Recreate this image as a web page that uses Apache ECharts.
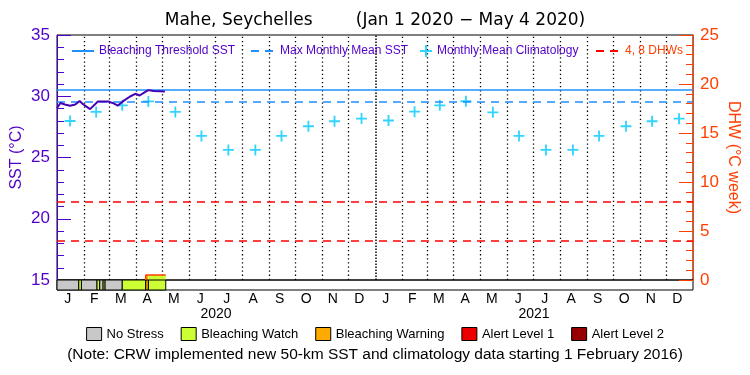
<!DOCTYPE html>
<html><head><meta charset="utf-8">
<script src="https://cdn.jsdelivr.net/npm/echarts@6/dist/echarts.min.js"></script>
<style>html,body{margin:0;padding:0;background:#fff}#c{width:750px;height:375px}</style>
</head><body><div id="c"></div>
<script>
// ---------------- data ----------------
const titleText = 'Mahe, Seychelles        (Jan 1 2020 \u2212 May 4 2020)';
const noteText = '(Note: CRW implemented new 50-km SST and climatology data starting 1 February 2016)';
const monthLetters = ['J','F','M','A','M','J','J','A','S','O','N','D','J','F','M','A','M','J','J','A','S','O','N','D'];
const yearLabels = ['2020','2021'];
const xStart = '2020-01-01', xEnd = '2022-01-01';

const sstDates = ['2020-01-01','2020-01-05','2020-01-10','2020-01-16','2020-01-22','2020-01-27','2020-01-31',
  '2020-02-08','2020-02-17','2020-02-29','2020-03-06','2020-03-11','2020-03-17','2020-03-25','2020-03-31',
  '2020-04-05','2020-04-11','2020-04-15','2020-04-21','2020-04-28','2020-05-04'];
const sstValues = [29.04,29.45,29.33,29.22,29.32,29.62,29.35,
  28.95,29.57,29.57,29.42,29.24,29.6,29.98,30.2,
  30.06,30.34,30.5,30.42,30.4,30.38];

const climDates = ['2020-01-16','2020-02-15','2020-03-16','2020-04-15','2020-05-16','2020-06-15','2020-07-16','2020-08-16','2020-09-15','2020-10-16','2020-11-15','2020-12-16',
  '2021-01-16','2021-02-15','2021-03-16','2021-04-15','2021-05-16','2021-06-15','2021-07-16','2021-08-16','2021-09-15','2021-10-16','2021-11-15','2021-12-16'];
const climValues = [27.98,28.72,29.26,29.58,28.72,26.76,25.62,25.62,26.76,27.55,27.96,28.18,
  28.02,28.74,29.26,29.59,28.69,26.76,25.62,25.62,26.76,27.55,27.96,28.17];

const bleachingThreshold = 30.57;
const maxMonthlyMean = 29.57;
const dhwLevels = [4, 8];

const stressNames = ['No Stress','Bleaching Watch','Bleaching Warning','Alert Level 1','Alert Level 2'];
const stressColors = ['#c8c8c8','#ccff33','#ffaa00','#ee0000','#960000'];
const stressStart = ['2020-01-01','2020-01-26','2020-01-29','2020-02-16','2020-02-19','2020-02-23','2020-02-25','2020-03-16','2020-04-12','2020-04-15'];
const stressEnd   = ['2020-01-26','2020-01-29','2020-02-16','2020-02-19','2020-02-23','2020-02-25','2020-03-16','2020-04-12','2020-04-15','2020-05-05'];
const stressLevel = [0,1,0,1,0,1,0,1,2,1];

const dhwStart = ['2020-04-12','2020-04-15'];
const dhwEnd   = ['2020-04-15','2020-05-05'];
const dhwValue = [0.5, 0.5];
const dhwLevel = [2, 1];
const dhwLineDates = ['2020-04-12','2020-04-12','2020-05-05'];
const dhwLineValues = [0, 0.5, 0.5];

// ---------------- styles ----------------
const PURPLE = '#5000c8', ORANGE = '#ff4000', BLUE = '#1e90ff', CYAN = '#00c8ff', RED = '#ff0000', SSTC = '#4800b4';
const FONT = 'Liberation Sans';
const T = s => Date.parse(s);
const t0 = T(xStart), t1 = T(xEnd);

// month boundaries (axis gridlines)
const monthStarts = [];
for (let y = 2020; y <= 2021; y++) for (let m = 0; m < 12; m++) if (!(y === 2020 && m === 0)) monthStarts.push(Date.UTC(y, m, 1));

function rectItem(params, api) {
  const a = api.coord([api.value(0), api.value(2)]);
  const b = api.coord([api.value(1), api.value(3)]);
  return {type: 'rect', shape: {x: a[0], y: b[1], width: b[0] - a[0], height: a[1] - b[1]},
    style: {fill: api.visual('color'), stroke: params.seriesName === 'dhwfill' ? null : '#000', lineWidth: 1}};
}

const stressSeries = stressNames.map((name, lv) => ({
  name, type: 'custom', xAxisIndex: 1, yAxisIndex: 2, renderItem: rectItem,
  itemStyle: {color: stressColors[lv], borderColor: '#000', borderWidth: 1},
  encode: {x: [0, 1], y: [2, 3]},
  data: stressStart.map((s, i) => [T(s), T(stressEnd[i]), 0, 1, stressLevel[i]]).filter(d => d[4] === lv)
}));

function refLine(name, values, yIdx, color, type) {
  return {name, type: 'line', xAxisIndex: 0, yAxisIndex: yIdx, symbol: 'none', showSymbol: false,
    data: [[t0, values[0]]],
    lineStyle: {color, width: 1.5, type}, itemStyle: {color},
    markLine: {silent: true, symbol: ['none', 'none'], label: {show: false}, lineStyle: {color, width: 1.5, type},
      data: values.map(v => ({yAxis: v}))}};
}

const hideSym = {color: 'rgba(0,0,0,0)', borderColor: 'rgba(0,0,0,0)', borderWidth: 0};
const lg = (name, left, w, color, extra) => Object.assign({data: [name], left, top: 45, padding: 0, itemWidth: w, itemHeight: 12, selectedMode: false,
  textStyle: {color, fontSize: 12, fontFamily: FONT}}, extra || {});

const chart = echarts.init(document.getElementById('c'));
chart.setOption({
  animation: false,
  textStyle: {fontFamily: FONT},
  title: [
    {text: titleText, left: 'center', top: 7, textStyle: {fontFamily: 'DejaVu Sans', fontSize: 17, fontWeight: 'normal', color: '#000'}},
    {text: noteText, left: 'center', top: 342, textStyle: {fontFamily: FONT, fontSize: 15.5, fontWeight: 'normal', color: '#000'}}
  ],
  grid: [
    {left: 57, right: 57, top: 35, height: 245, show: true, borderColor: '#000', borderWidth: 1, containLabel: false, outerBoundsMode: 'none'},
    {left: 57, right: 57, top: 280, height: 10, show: true, borderColor: '#000', borderWidth: 1, containLabel: false, outerBoundsMode: 'none'}
  ],
  legend: [
    lg('Bleaching Threshold SST', 71, 22, PURPLE, {itemStyle: hideSym}),
    lg('Max Monthly Mean SST', 250, 24, PURPLE, {itemStyle: hideSym}),
    lg('Monthly Mean Climatology', 420, 12, PURPLE),
    lg('4, 8 DHWs', 595, 24, ORANGE, {itemStyle: hideSym}),
    {data: stressNames, left: 'center', top: 327, padding: 0, icon: 'rect', itemWidth: 15, itemHeight: 13, itemGap: 17, selectedMode: false,
      itemStyle: {borderColor: '#000', borderWidth: 1}, textStyle: {color: '#000', fontSize: 13, fontFamily: FONT}}
  ],
  xAxis: [
    {type: 'time', gridIndex: 0, min: t0, max: t1, show: false},
    {type: 'time', gridIndex: 1, min: t0, max: t1, show: false},
    {type: 'category', gridIndex: 1, data: monthLetters, position: 'bottom', boundaryGap: true,
      axisLine: {show: false}, axisTick: {show: false}, splitLine: {show: false},
      axisLabel: {interval: 0, margin: 2, fontSize: 14, color: '#000', fontFamily: FONT, padding: [0, 5, 0, 0]}},
    {type: 'category', gridIndex: 1, data: yearLabels, position: 'bottom', offset: 17, boundaryGap: true,
      axisLine: {show: false}, axisTick: {show: false}, splitLine: {show: false},
      axisLabel: {interval: 0, margin: 0, fontSize: 14, color: '#000', fontFamily: FONT}}
  ],
  yAxis: [
    {type: 'value', gridIndex: 0, min: 15, max: 35, interval: 5, position: 'left',
      axisLine: {show: true, lineStyle: {color: PURPLE, width: 1}},
      axisTick: {show: true, inside: true, length: 14, lineStyle: {color: PURPLE}},
      minorTick: {show: true, splitNumber: 5, length: 7, lineStyle: {color: PURPLE}},
      splitLine: {show: false}, minorSplitLine: {show: false},
      axisLabel: {color: PURPLE, fontSize: 17, margin: 7, fontFamily: FONT},
      name: 'SST (\u00b0C)', nameLocation: 'middle', nameGap: 32, nameRotate: 90, nameMoveOverlap: false,
      nameTextStyle: {color: PURPLE, fontSize: 16, fontFamily: FONT}},
    {type: 'value', gridIndex: 0, min: 0, max: 25, interval: 5, position: 'right',
      axisLine: {show: true, lineStyle: {color: ORANGE, width: 1}},
      axisTick: {show: true, inside: true, length: 14, lineStyle: {color: ORANGE}},
      minorTick: {show: true, splitNumber: 5, length: 7, lineStyle: {color: ORANGE}},
      splitLine: {show: false}, minorSplitLine: {show: false},
      axisLabel: {color: ORANGE, fontSize: 17, margin: 7, fontFamily: FONT},
      name: 'DHW (\u00b0C week)', nameLocation: 'middle', nameGap: 32, nameRotate: -90, nameMoveOverlap: false,
      nameTextStyle: {color: ORANGE, fontSize: 16, fontFamily: FONT}},
    {type: 'value', gridIndex: 1, min: 0, max: 1, show: false}
  ],
  series: [
    {name: 'sst', type: 'line', xAxisIndex: 0, yAxisIndex: 0, symbol: 'none', z: 5,
      lineStyle: {color: SSTC, width: 2}, itemStyle: {color: SSTC},
      data: sstDates.map((d, i) => [T(d), sstValues[i]]),
      markLine: {silent: true, symbol: ['none', 'none'], label: {show: false}, z: 1,
        data: monthStarts.map(ms => ({xAxis: ms, lineStyle: new Date(ms).getUTCMonth() === 0
          ? {color: '#000', width: 1.5, type: [1.5, 1.5]} : {color: '#000', width: 1.3, type: [1.3, 2.8]}}))}},
    refLine('Bleaching Threshold SST', [bleachingThreshold], 0, BLUE, 'solid'),
    refLine('Max Monthly Mean SST', [maxMonthlyMean], 0, BLUE, [8, 6]),
    {name: 'Monthly Mean Climatology', type: 'scatter', xAxisIndex: 0, yAxisIndex: 0,
      symbol: 'path://M5,0H7V5H12V7H7V12H5V7H0V5H5Z', symbolSize: 11, itemStyle: {color: CYAN},
      data: climDates.map((d, i) => [T(d), climValues[i]])},
    refLine('4, 8 DHWs', dhwLevels, 1, RED, [8, 6]),
    {name: 'dhwfill', type: 'custom', xAxisIndex: 0, yAxisIndex: 1, renderItem: rectItem, encode: {x: [0, 1], y: [2, 3]},
      data: dhwStart.map((s, i) => ({value: [T(s), T(dhwEnd[i]), 0, dhwValue[i]], itemStyle: {color: stressColors[dhwLevel[i]]}}))},
    {name: 'dhw', type: 'line', xAxisIndex: 0, yAxisIndex: 1, symbol: 'none', z: 4,
      lineStyle: {color: ORANGE, width: 1.5}, data: dhwLineDates.map((d, i) => [T(d), dhwLineValues[i]])},
    ...stressSeries
  ]
});
</script></body></html>
